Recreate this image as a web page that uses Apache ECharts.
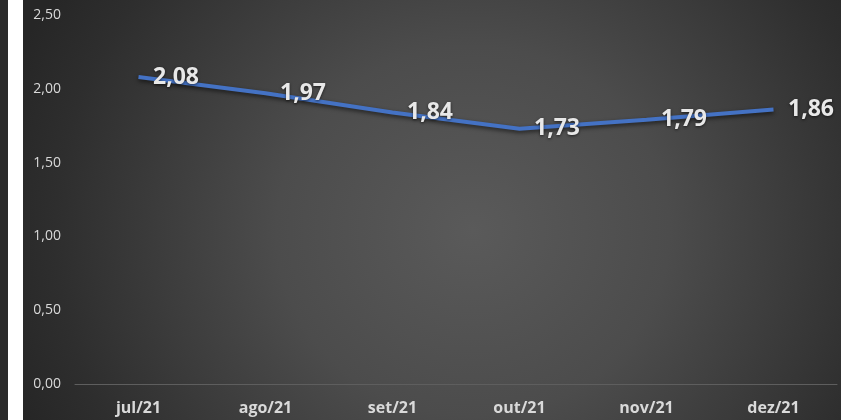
<!DOCTYPE html>
<html>
<head>
<meta charset="utf-8">
<script src="https://cdn.jsdelivr.net/npm/echarts@6/dist/echarts.min.js"></script>
<style>
html,body{margin:0;padding:0;width:841px;height:420px;overflow:hidden;background:#2a2a2a;}
#strip{position:absolute;left:8px;top:0;width:15px;height:420px;background:#ffffff;}
#chart{position:absolute;left:23px;top:0;width:818px;height:420px;
 background:radial-gradient(ellipse 60% 110% at 55% 55%, #5a5a5a 0%, #4c4c4c 40%, #2e2e2e 85%, #262626 100%);}
</style>
</head>
<body>
<div id="strip"></div>
<div id="chart"></div>
<script>
const categories = ['jul/21','ago/21','set/21','out/21','nov/21','dez/21'];
const values = [2.08, 1.97, 1.84, 1.73, 1.79, 1.86];
const yTicks = [0, 0.5, 1.0, 1.5, 2.0, 2.5];

const fmt = v => v.toFixed(2).replace('.', ',');
const chart = echarts.init(document.getElementById('chart'), null, {renderer:'canvas'});
chart.setOption({
  backgroundColor: 'transparent',
  animation: false,
  grid: {left: 52, right: 4, top: 15, bottom: 36, containLabel: false},
  xAxis: {
    type: 'category',
    data: categories,
    boundaryGap: true,
    axisLine: {show: true, lineStyle: {color: '#5e5e5e', width: 1}},
    axisTick: {show: false},
    axisLabel: {color: '#d9d9d9', fontFamily: 'Open Sans', fontWeight: 'bold', fontSize: 16, margin: 16}
  },
  yAxis: {
    type: 'value',
    min: yTicks[0],
    max: yTicks[yTicks.length-1],
    interval: 0.5,
    axisLine: {show: false},
    axisTick: {show: false},
    splitLine: {show: false},
    axisLabel: {color: '#d9d9d9', fontFamily: 'Open Sans', fontSize: 14, margin: 14,
      formatter: v => fmt(v), align: 'right'}
  },
  series: [{
    type: 'line',
    data: values,
    symbol: 'circle',
    symbolSize: 1,
    showSymbol: true,
    itemStyle: {color: 'rgba(0,0,0,0)', borderWidth: 0},
    lineStyle: {color: '#4472C4', width: 4, shadowColor: 'rgba(0,0,0,0.6)', shadowBlur: 4, shadowOffsetY: 2},
    label: {
      show: true, position: 'right', distance: 14,
      formatter: p => fmt(p.value),
      color: '#e8e8e8', fontFamily: 'Open Sans', fontWeight: 'bold', fontSize: 23,
      textShadowColor: 'rgba(0,0,0,0.6)', textShadowBlur: 3, textShadowOffsetY: 1
    }
  }]
});
</script>
</body>
</html>
